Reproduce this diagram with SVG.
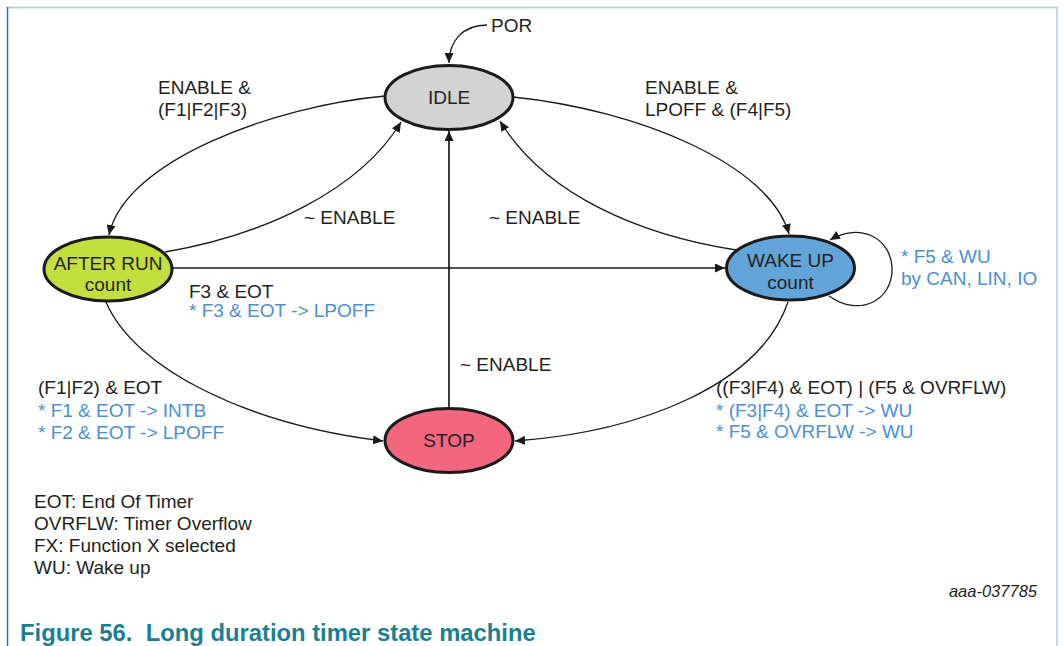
<svg xmlns="http://www.w3.org/2000/svg" width="1064" height="646" viewBox="0 0 1064 646">
<style>
text{font-family:"Liberation Sans",Arial,sans-serif;font-size:19px;fill:#231f20}
.b{fill:#4a8fd6}
.c{text-anchor:middle}
.st{stroke:#1a1a1a;stroke-width:3}
.e{fill:none;stroke:#1a1a1a;stroke-width:1.3;marker-end:url(#ah)}
.s{fill:none;stroke:#1a1a1a;stroke-width:1.7;marker-end:url(#ah)}
</style>
<defs>
<marker id="ah" markerUnits="userSpaceOnUse" markerWidth="11" markerHeight="9" refX="10" refY="4.5" orient="auto">
<path d="M0,0 L10,4.5 L0,9 z" fill="#1a1a1a"/>
</marker>
</defs>
<rect width="1064" height="646" fill="#fff"/>
<g id="frame">
<line x1="7" y1="7.5" x2="1057" y2="7.5" stroke="#b5d5dd" stroke-width="2"/>
<line x1="7.5" y1="7" x2="7.5" y2="646" stroke="#1e7f8f" stroke-width="1.5"/>
<line x1="1057" y1="7" x2="1057" y2="646" stroke="#a8ccd6" stroke-width="1.5"/>
</g>
<g id="connectors">
<path class="e" d="M487 25 C462 25 449 42 449 63"/>
<path class="e" d="M385 96 C275 106 125 160 109 235"/>
<path class="e" d="M165 252 C265 235 360 190 401 122"/>
<path class="s" d="M172 268 L725 268"/>
<path class="e" d="M106 302 C135 370 250 425 383 441"/>
<path class="s" d="M449 407 L449 131"/>
<path class="e" d="M736 250 C640 235 545 195 500 121"/>
<path class="e" d="M513 97 C640 110 770 165 789 234"/>
<path class="e" d="M829 296 C860 318 893 300 892 268 C891 238 860 222 830 240"/>
<path class="e" d="M788 302 C760 385 640 432 515 441"/>
</g>
<g id="idle">
<ellipse class="st" cx="449" cy="97.5" rx="64" ry="32" fill="#d3d3d3"/>
<text class="c" x="449" y="103.5">IDLE</text>
</g>
<g id="afterrun">
<ellipse class="st" cx="108" cy="269" rx="64" ry="32" fill="#c3df3e"/>
<text class="c" x="108" y="269.5">AFTER RUN</text>
<text class="c" x="108" y="291">count</text>
</g>
<g id="wakeup">
<ellipse class="st" cx="790.5" cy="268" rx="64" ry="32" fill="#63a5d8"/>
<text class="c" x="790.5" y="267">WAKE UP</text>
<text class="c" x="790.5" y="288.5">count</text>
</g>
<g id="stop">
<ellipse class="st" cx="449" cy="440.5" rx="64" ry="32" fill="#f26680"/>
<text class="c" x="449" y="446.5">STOP</text>
</g>
<g id="labels">
<text x="491" y="32">POR</text>
<text x="158" y="94">ENABLE &amp;</text>
<text x="158" y="116">(F1|F2|F3)</text>
<text x="304" y="224">~ ENABLE</text>
<text x="489" y="224">~ ENABLE</text>
<text x="645" y="94">ENABLE &amp;</text>
<text x="645" y="116">LPOFF &amp; (F4|F5)</text>
<text x="189" y="298">F3 &amp; EOT</text>
<text class="b" x="189" y="317">* F3 &amp; EOT -&gt; LPOFF</text>
<text class="b" x="901" y="263">* F5 &amp; WU</text>
<text class="b" x="901" y="285">by CAN, LIN, IO</text>
<text x="460" y="371">~ ENABLE</text>
<text x="38" y="394">(F1|F2) &amp; EOT</text>
<text class="b" x="38" y="416.5">* F1 &amp; EOT -&gt; INTB</text>
<text class="b" x="38" y="438.5">* F2 &amp; EOT -&gt; LPOFF</text>
<text x="716" y="394">((F3|F4) &amp; EOT) | (F5 &amp; OVRFLW)</text>
<text class="b" x="716" y="416.5">* (F3|F4) &amp; EOT -&gt; WU</text>
<text class="b" x="716" y="437.5">* F5 &amp; OVRFLW -&gt; WU</text>
</g>
<g id="legend">
<text x="34" y="508">EOT: End Of Timer</text>
<text x="34" y="530">OVRFLW: Timer Overflow</text>
<text x="34" y="552">FX: Function X selected</text>
<text x="34" y="574">WU: Wake up</text>
</g>
<text x="1037" y="597" text-anchor="end" style="font-size:16.5px;font-style:italic">aaa-037785</text>
<text x="20" y="641" style="font-size:23.8px;font-weight:bold;fill:#1a7f91">Figure 56.&#160; Long duration timer state machine</text>
</svg>
